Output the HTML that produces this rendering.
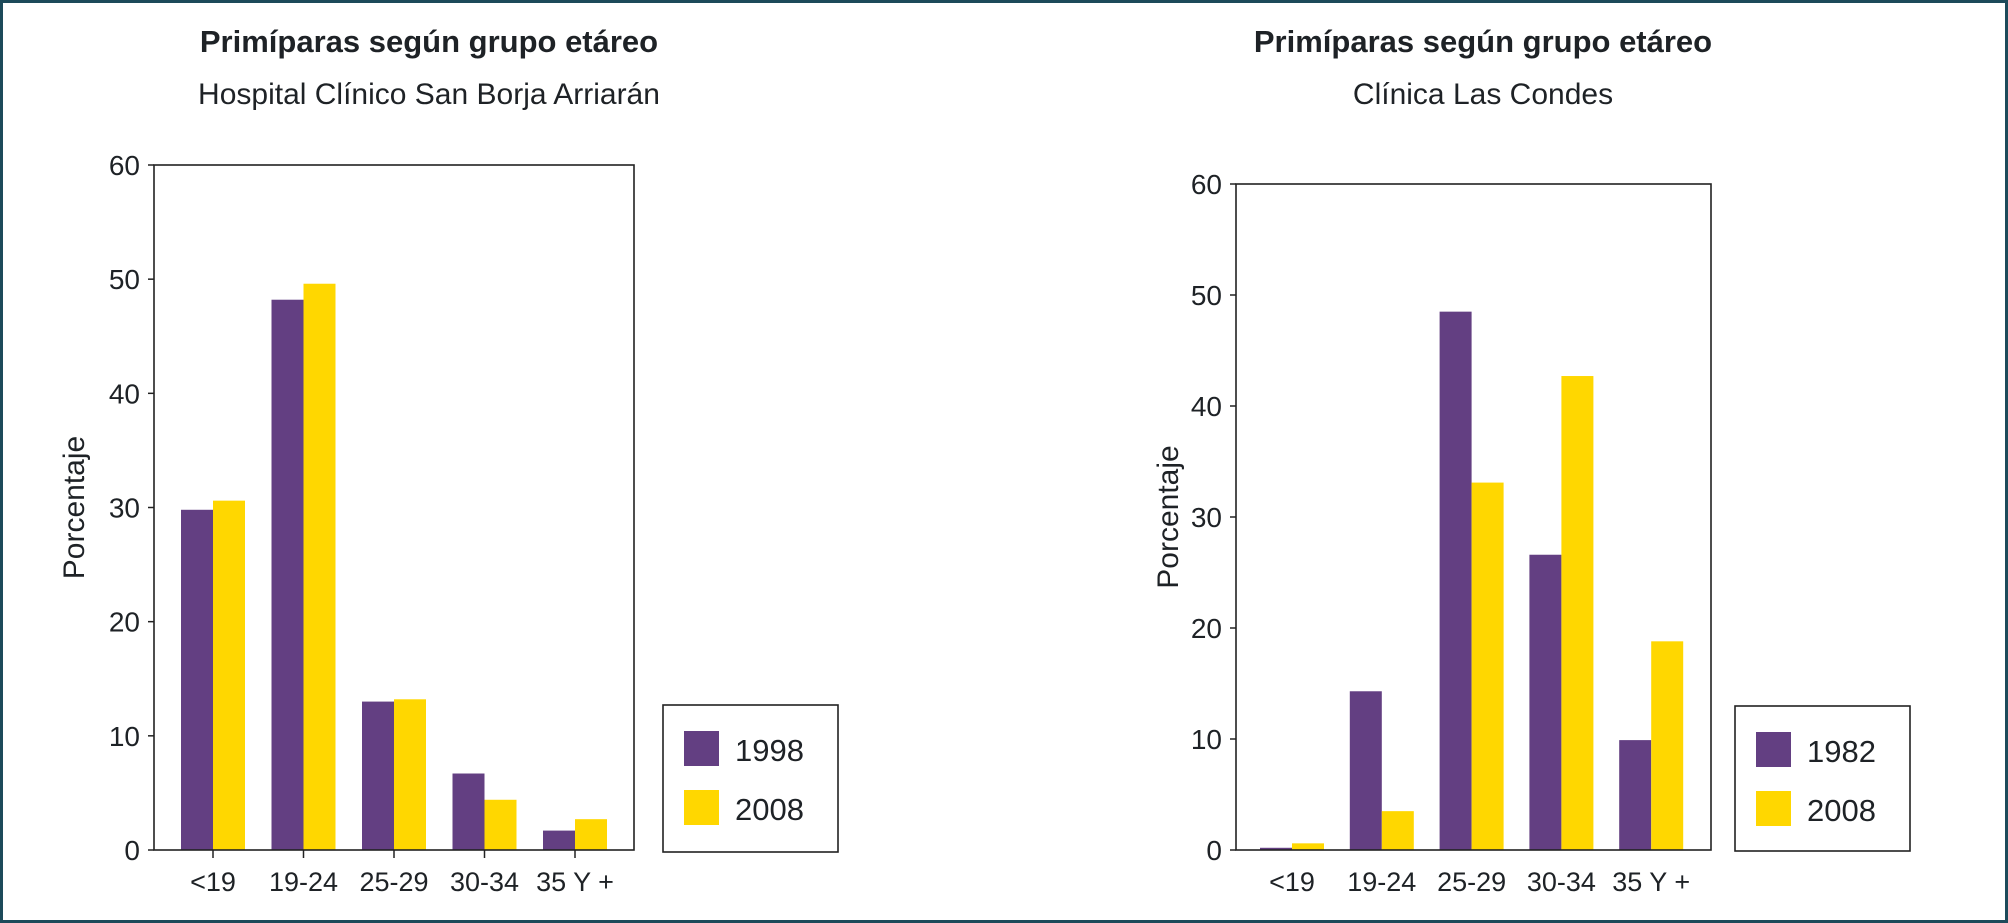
<!DOCTYPE html>
<html><head><meta charset="utf-8"><style>
html,body{margin:0;padding:0;background:#fff}
svg{display:block}
text{font-family:"Liberation Sans Narrow","Liberation Sans",sans-serif;fill:#1e2226}
</style></head><body>
<svg id="root" width="2008" height="923" viewBox="0 0 2008 923">
<rect x="1.5" y="1.5" width="2005" height="920" fill="#fff" stroke="#1d4a5a" stroke-width="3"/>
</svg>
<script>
const categories = ["<19","19-24","25-29","30-34","35 Y +"];
const yTicks = [0,10,20,30,40,50,60];
const leftSeriesA = [29.8, 48.2, 13.0, 6.7, 1.7];
const leftSeriesB = [30.6, 49.6, 13.2, 4.4, 2.7];
const leftLegend = ["1998","2008"];
const rightSeriesA = [0.2, 14.3, 48.5, 26.6, 9.9];
const rightSeriesB = [0.6, 3.5, 33.1, 42.7, 18.8];
const rightLegend = ["1982","2008"];

const NS="http://www.w3.org/2000/svg";
const root=document.getElementById('root');
function mk(tag,attrs,parent,txt){const e=document.createElementNS(NS,tag);for(const k in attrs)e.setAttribute(k,attrs[k]);if(txt!==undefined)e.textContent=txt;(parent||root).appendChild(e);return e;}

function chart(cfg){
  const g=mk('g',{});
  
  
  const y=v=>cfg.y0-(v/60)*(cfg.y0-cfg.yTop);
  const xc=i=>cfg.c0+i*cfg.step;
  let t=mk('text',{x:cfg.titleX,y:52,'text-anchor':'middle','font-size':31,'font-weight':'bold'},g,'Primíparas según grupo etáreo');
  
  
  t=mk('text',{x:cfg.titleX,y:104,'text-anchor':'middle','font-size':30},g,cfg.subtitle);
  
  
  // bars
  for(let i=0;i<categories.length;i++){
    let b=mk('rect',{x:xc(i)-32,y:y(cfg.a[i]),width:32,height:cfg.y0-y(cfg.a[i]),fill:'#633f82'},g);
    
    
    b=mk('rect',{x:xc(i),y:y(cfg.b[i]),width:32,height:cfg.y0-y(cfg.b[i]),fill:'#ffd700'},g);
    
    
    const l=mk('text',{x:xc(i),y:cfg.y0+41,'text-anchor':'middle','font-size':27},g,categories[i]);
    
    
    if(cfg.xticks){mk('line',{x1:xc(i),x2:xc(i),y1:cfg.y0,y2:cfg.y0+8,stroke:'#222','stroke-width':1.5},g);}
  }
  const box=mk('rect',{x:cfg.x0,y:cfg.yTop,width:cfg.x1-cfg.x0,height:cfg.y0-cfg.yTop,fill:'none',stroke:'#222','stroke-width':1.6},g);
  
  
  yTicks.forEach(v=>{
    mk('line',{x1:cfg.x0-6,x2:cfg.x0,y1:y(v),y2:y(v),stroke:'#222','stroke-width':1.5},g);
    const l=mk('text',{x:cfg.x0-14,y:y(v)+10,'text-anchor':'end','font-size':28},g,String(v));
    
    
  });
  const yt=mk('text',{x:0,y:0,'text-anchor':'middle','font-size':30,transform:`translate(${cfg.ylabX+10},${(cfg.yTop+cfg.y0)/2+0}) rotate(-90)`},g,'Porcentaje');
  
  
  const lg=mk('rect',{x:cfg.lx,y:cfg.ly,width:cfg.lw,height:cfg.lh,fill:'#fff',stroke:'#222','stroke-width':1.6},g);
  
  
  [['#633f82',cfg.la[0],26],['#ffd700',cfg.la[1],85]].forEach(([c,s,dy])=>{
    const r=mk('rect',{x:cfg.lx+21,y:cfg.ly+dy,width:35,height:35,fill:c},g);
    
    
    const tx=mk('text',{x:cfg.lx+72,y:cfg.ly+dy+30,'font-size':31},g,s);
    
    
  });
}
chart({name:'chart-san-borja',subtitle:'Hospital Clínico San Borja Arriarán',titleX:429,x0:154,x1:634,yTop:165,y0:850,c0:213,step:90.5,a:leftSeriesA,b:leftSeriesB,la:leftLegend,ylabX:74,lx:663,ly:705,lw:175,lh:147,xticks:true});
chart({name:'chart-las-condes',subtitle:'Clínica Las Condes',titleX:1483,x0:1236,x1:1711,yTop:184,y0:850,c0:1292,step:89.8,a:rightSeriesA,b:rightSeriesB,la:rightLegend,ylabX:1168,lx:1735,ly:706,lw:175,lh:145,xticks:false});
</script>
</body></html>
